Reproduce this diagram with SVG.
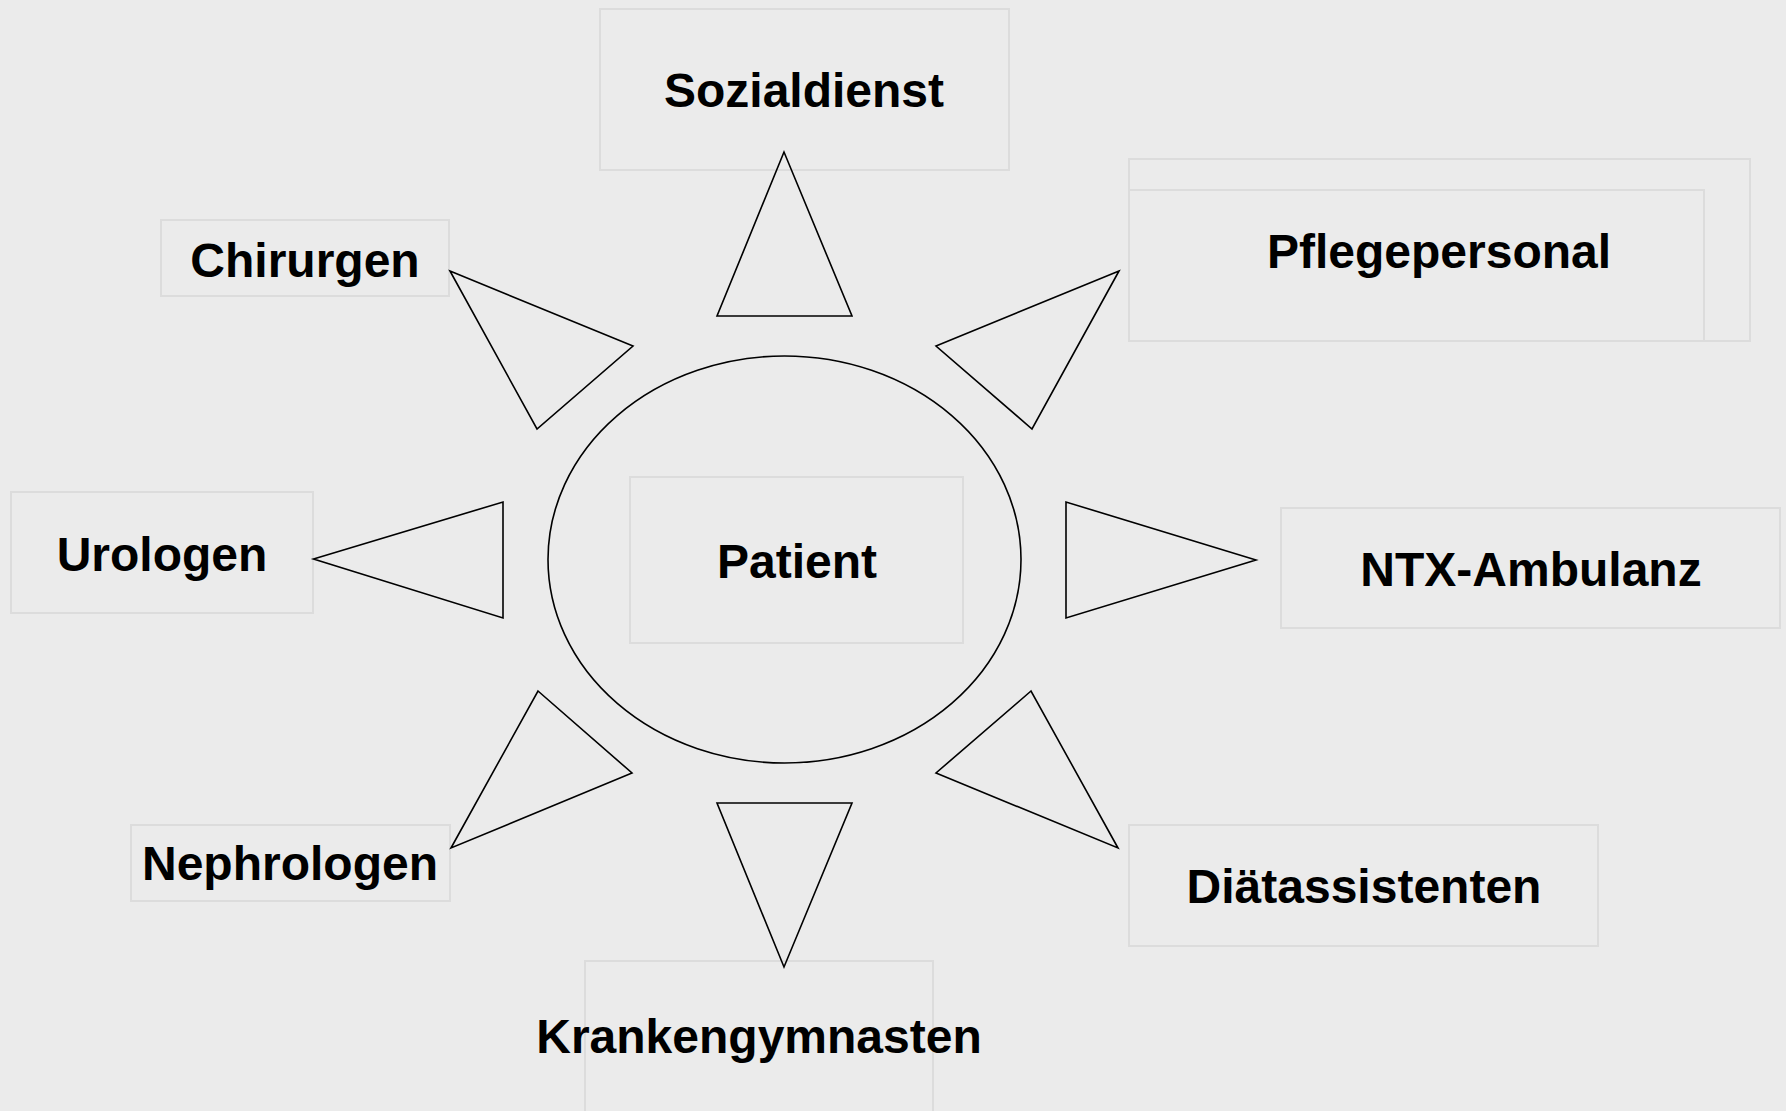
<svg xmlns="http://www.w3.org/2000/svg" width="1786" height="1111" viewBox="0 0 1786 1111">
<style>
.box{fill:none;stroke:#DCDCDC;stroke-width:2}
.lbl{font-family:"Liberation Sans",Arial,sans-serif;font-weight:bold;font-size:48px;fill:#000;text-anchor:middle}
.tri{fill:none;stroke:#000;stroke-width:1.6;stroke-linejoin:miter}
</style>
<rect x="0" y="0" width="1786" height="1111" fill="#EBEBEB"/>
<g id="patient">
<ellipse cx="784.5" cy="559.5" rx="236.5" ry="203.5" fill="none" stroke="#000" stroke-width="1.6"/>
<rect class="box" x="630" y="477" width="333" height="166"/>
<text class="lbl" x="797" y="578">Patient</text>
</g>
<g id="sozialdienst">
<rect class="box" x="600" y="9" width="409" height="161"/>
<text class="lbl" x="804" y="107">Sozialdienst</text>
</g>
<g id="pflegepersonal">
<rect class="box" x="1129" y="159" width="621" height="182"/>
<rect class="box" x="1129" y="190" width="575" height="151"/>
<text class="lbl" x="1439" y="268">Pflegepersonal</text>
</g>
<g id="chirurgen">
<rect class="box" x="161" y="220" width="288" height="76"/>
<text class="lbl" x="305" y="277">Chirurgen</text>
</g>
<g id="urologen">
<rect class="box" x="11" y="492" width="302" height="121"/>
<text class="lbl" x="162" y="571">Urologen</text>
</g>
<g id="ntx-ambulanz">
<rect class="box" x="1281" y="508" width="499" height="120"/>
<text class="lbl" x="1531" y="586">NTX-Ambulanz</text>
</g>
<g id="nephrologen">
<rect class="box" x="131" y="825" width="319" height="76"/>
<text class="lbl" x="290" y="880">Nephrologen</text>
</g>
<g id="diaetassistenten">
<rect class="box" x="1129" y="825" width="469" height="121"/>
<text class="lbl" x="1364" y="903">Diätassistenten</text>
</g>
<g id="krankengymnasten">
<rect class="box" x="585" y="961" width="348" height="160"/>
<text class="lbl" x="759" y="1053">Krankengymnasten</text>
</g>
<g id="connectors">
<polygon class="tri" points="784,152 717,316 852,316"/>
<polygon class="tri" points="1119,271 936,346 1032,429"/>
<polygon class="tri" points="450,271 633,346 537,429"/>
<polygon class="tri" points="313.5,559 503,502 503,618"/>
<polygon class="tri" points="1256,560 1066,502 1066,618"/>
<polygon class="tri" points="538,691 632,773 451,848"/>
<polygon class="tri" points="1031,691 936,773 1118,848"/>
<polygon class="tri" points="717,803 852,803 784,967"/>
</g>
</svg>
